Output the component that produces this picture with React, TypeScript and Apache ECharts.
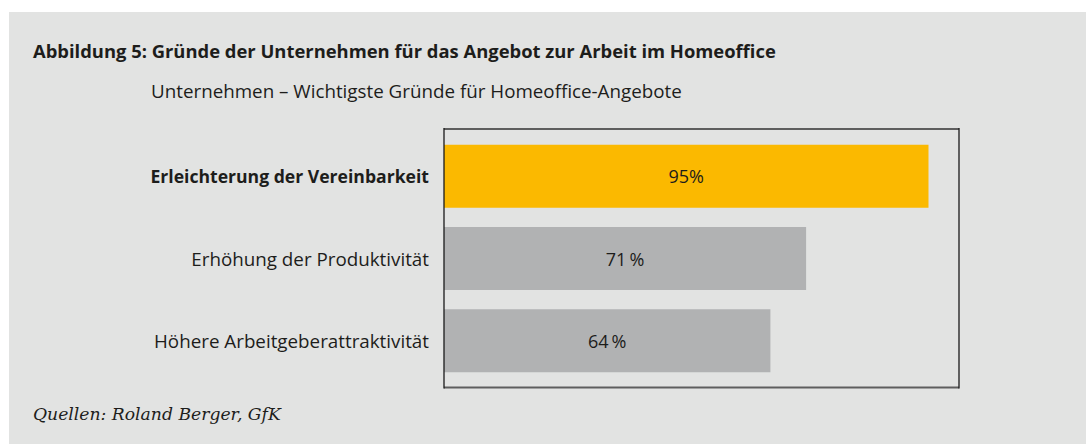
import React, { useEffect, useRef } from "react";
import * as echarts from "echarts";

const titleText = "Abbildung 5: Gründe der Unternehmen für das Angebot zur Arbeit im Homeoffice";
const subtitleText = "Unternehmen – Wichtigste Gründe für Homeoffice-Angebote";
const sourceText = "Quellen: Roland Berger, GfK";
const categories = [
  "Erleichterung der Vereinbarkeit",
  "Erhöhung der Produktivität",
  "Höhere Arbeitgeberattraktivität",
];
const values = [95, 71, 64];
const valueLabels = ["95%", "71\u2009%", "64\u2009%"];
const barColors = ["#fbb900", "#b1b2b3", "#b1b2b3"];
const boldCategory = [true, false, false];

const SANS = "'Open Sans', 'Noto Sans', sans-serif";
const TEXT = "#1d1d1b";

export default function App() {
  const ref = useRef<HTMLDivElement>(null);
  useEffect(() => {
    if (!ref.current) return;
    const chart = echarts.init(ref.current, null, { renderer: "svg" });
    chart.setOption({
      animation: false,
      backgroundColor: "#ffffff",
      graphic: [
        {
          type: "rect",
          z: -10,
          silent: true,
          shape: { x: 9, y: 12, width: 1077, height: 432 },
          style: { fill: "#e2e3e2" },
        },
        {
          type: "text",
          x: 33,
          y: 50,
          style: {
            text: titleText,
            font: `bold 18.4px ${SANS}`,
            fill: TEXT,
            textVerticalAlign: "middle",
          },
        },
        {
          type: "text",
          x: 151,
          y: 91,
          style: {
            text: subtitleText,
            font: `18.8px ${SANS}`,
            fill: TEXT,
            textVerticalAlign: "middle",
          },
        },
        {
          type: "text",
          x: 33,
          y: 414,
          style: {
            text: sourceText,
            font: `italic 17.2px 'DejaVu Serif', serif`,
            fill: TEXT,
            textVerticalAlign: "middle",
          },
        },
        {
          type: "line",
          z: 20,
          shape: { x1: 444, y1: 129, x2: 959, y2: 129 },
          style: { stroke: "#5e5e5e", lineWidth: 2 },
        },
        {
          type: "line",
          z: 20,
          shape: { x1: 444, y1: 387.5, x2: 959, y2: 387.5 },
          style: { stroke: "#5e5e5e", lineWidth: 2 },
        },
        {
          type: "line",
          z: 20,
          shape: { x1: 444, y1: 128, x2: 444, y2: 388.5 },
          style: { stroke: "#1a1a1a", lineWidth: 1.3 },
        },
        {
          type: "line",
          z: 20,
          shape: { x1: 959, y1: 128, x2: 959, y2: 388.5 },
          style: { stroke: "#1a1a1a", lineWidth: 1.3 },
        },
      ],
      grid: { left: 444, width: 510, top: 135, height: 247, containLabel: false },
      xAxis: {
        type: "value",
        min: 0,
        max: 100,
        show: false,
      },
      yAxis: {
        type: "category",
        inverse: true,
        data: categories.map((c, i) => ({
          value: c,
          textStyle: boldCategory[i]
            ? { fontWeight: "bold", fontSize: 17.6 }
            : { fontWeight: "normal", fontSize: 18.8 },
        })),
        axisLine: { show: false },
        axisTick: { show: false },
        axisLabel: {
          margin: 15,
          fontSize: 18.8,
          fontFamily: SANS,
          color: TEXT,
        },
      },
      series: [
        {
          type: "bar",
          barWidth: 63,
          data: values.map((v, i) => ({ value: v, itemStyle: { color: barColors[i] } })),
          label: {
            show: true,
            position: "inside",
            formatter: (p: any) => valueLabels[p.dataIndex],
            fontSize: 18,
            fontFamily: SANS,
            color: TEXT,
          },
        },
      ],
    });
    return () => chart.dispose();
  }, []);
  return (
    <div
      ref={ref}
      style={{ position: "absolute", left: 0, top: 0, width: 1086, height: 444 }}
    />
  );
}
